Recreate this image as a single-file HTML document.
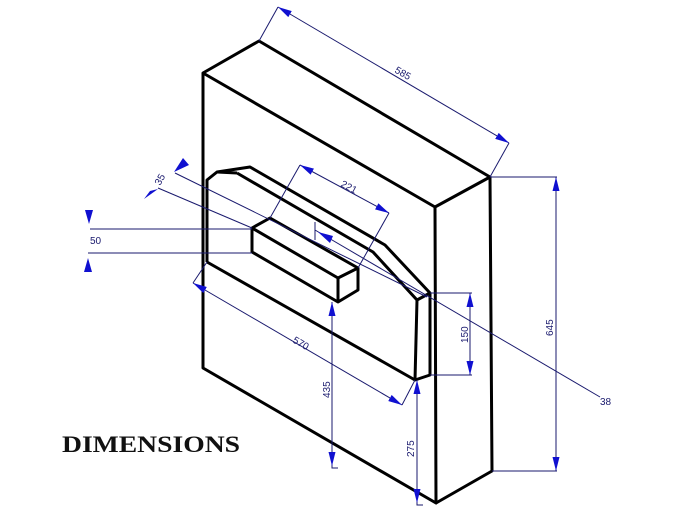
<!DOCTYPE html>
<html><head><style>body{margin:0;background:#fff}svg{display:block}</style></head><body>
<svg width="686" height="515" viewBox="0 0 686 515" xmlns="http://www.w3.org/2000/svg">
<defs>
<marker id="a" viewBox="0 0 14 7" refX="14" refY="3.5" markerWidth="14" markerHeight="7" orient="auto-start-reverse" markerUnits="userSpaceOnUse"><path d="M0,0 L14,3.5 L0,7 Z" fill="#1010d0"/></marker>
</defs>
<g fill="none" stroke="#000" stroke-width="3" stroke-linejoin="round">
<path d="M203,73 L259,41 L490,177 L435,207 Z"/>
<path d="M203,73 L203,368 L436,503 L435,207"/>
<path d="M436,503 L492,471 L490,177"/>
<path d="M207,262 L207,180 L217,172 L250,167 L385,245 L430,293 L430,375 L415,380 L207,262"/>
<path d="M237,173 L373,252 L417,300 L415,380 M417,300 L430,293 M217,172 L237,173"/>
<path d="M252,228 L270,218 L358,268 L358,290 L338,302 L252,252 Z M252,228 L338,278 L358,268 M338,278 L338,302"/>
</g>
<g fill="none" stroke="#1a1a6e" stroke-width="1">
<path d="M259,41 L278,7 M490,177 L509,143"/>
<path d="M270,218 L300,165 M358,268 L389,213"/>
<path d="M175,173 L427,297 M158,188 L252,228"/>
<path d="M315,222 L315,240 M315,230 L600,397"/>
<path d="M90,229 L252,229 M88,253 L252,253"/>
<path d="M207,262 L193,283 M415,380 L402,405"/>
<path d="M430,293 L472,293 M430,375 L472,375"/>
<path d="M490,177 L557,177 M492,471 L557,471"/>
<path d="M332,458 L332,468 L338,468 M417,495 L417,505 L423,505"/>
</g>
<g stroke="#1a1a6e" stroke-width="1" marker-start="url(#a)" marker-end="url(#a)">
<line x1="278" y1="7" x2="509" y2="143"/>
<line x1="300" y1="165" x2="389" y2="213"/>
<line x1="193" y1="283" x2="402" y2="405"/>
<line x1="332" y1="302" x2="332" y2="466"/>
<line x1="417" y1="380" x2="417" y2="503"/>
<line x1="470" y1="293" x2="470" y2="375"/>
<line x1="556" y1="177" x2="556" y2="471"/>
</g>
<g fill="#1010d0">
<path d="M89,224 L85,210 L93,210 Z M88,258 L84,272 L92,272 Z"/>
<path d="M174,172 L183,158 L189,165 Z M158,189 L144,199 L150,191 Z"/>
<path d="M318,232 L333,236 L330,243 Z"/>
</g>
<g font-family="Liberation Sans, sans-serif" font-size="10" fill="#1a1a6e">
<text x="394" y="72" transform="rotate(30 394 72)">585</text>
<text x="340" y="186" transform="rotate(28 340 186)">221</text>
<text x="160" y="186" transform="rotate(-60 160 186)">35</text>
<text x="90" y="244">50</text>
<text x="292" y="342" transform="rotate(30 292 342)">570</text>
<text x="330" y="398" transform="rotate(-90 330 398)">435</text>
<text x="414" y="457" transform="rotate(-90 414 457)">275</text>
<text x="468" y="343" transform="rotate(-90 468 343)">150</text>
<text x="553" y="336" transform="rotate(-90 553 336)">645</text>
<text x="600" y="405">38</text>
</g>
<text x="62" y="452" font-family="Liberation Serif, serif" font-weight="bold" font-size="23" textLength="178" lengthAdjust="spacingAndGlyphs" fill="#111">DIMENSIONS</text>
</svg>
</body></html>
